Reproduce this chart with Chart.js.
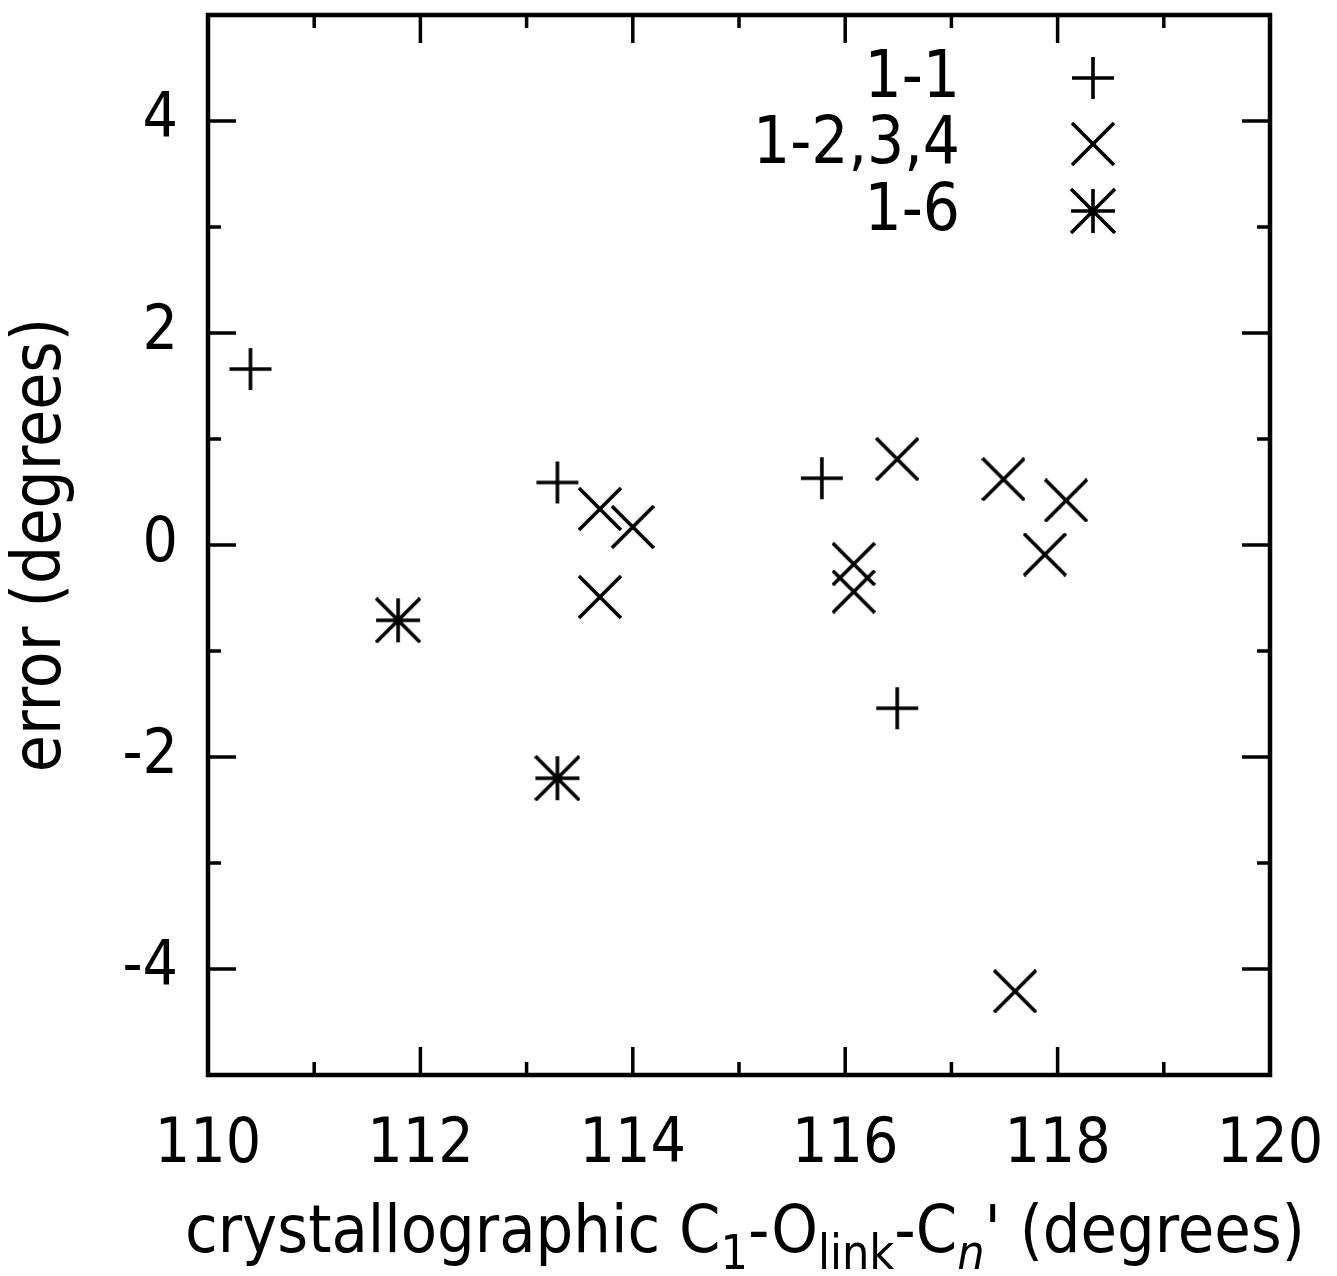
<!DOCTYPE html>
<html><head><meta charset="utf-8">
<script src="https://cdn.jsdelivr.net/npm/chart.js@4.4.1/dist/chart.umd.min.js"></script>
<style>html,body{margin:0;padding:0;background:#fff}#wrap{width:1337px;height:1276px}</style>
</head><body><div id="wrap"><canvas id="c" width="1337" height="1276"></canvas></div>
<script>
// ---- data ----
const seriesLabels = ['1-1', '1-2,3,4', '1-6'];
const s11X = [110.40, 113.29, 115.78, 116.49];
const s11Y = [1.66, 0.59, 0.63, -1.54];
const s1234X = [113.69, 114.00, 113.69, 116.49, 116.08, 116.08, 117.49, 118.08, 117.88, 117.60];
const s1234Y = [0.34, 0.17, -0.49, 0.81, -0.18, -0.44, 0.62, 0.42, -0.09, -4.21];
const s16X = [111.79, 113.29];
const s16Y = [-0.71, -2.20];
const xTickValues = [110, 112, 114, 116, 118, 120];
const xMinorTickValues = [111, 113, 115, 117, 119];
const yTickValues = [-4, -2, 0, 2, 4];
const yMinorTickValues = [-3, -1, 1, 3];
const yTitle = 'error (degrees)';
// x title as [text, isSubscript, isItalic]
const xTitleParts = [['crystallographic C', false, false], ['1', true, false], ['-O', false, false], ['link', true, false], ['-C', false, false], ['n', true, true], ["' (degrees)", false, false]];

const FONT = '"DejaVu Sans Condensed", "DejaVu Sans", sans-serif';

function makeMarker(kind, size, lw) {
  const c = document.createElement('canvas');
  c.width = size; c.height = size;
  const g = c.getContext('2d');
  g.strokeStyle = '#000'; g.lineWidth = lw; g.lineCap = 'butt';
  const h = size / 2, r = h - 1;
  g.beginPath();
  if (kind === 'plus' || kind === 'star') {
    g.moveTo(h - r, h); g.lineTo(h + r, h);
    g.moveTo(h, h - r); g.lineTo(h, h + r);
  }
  if (kind === 'x' || kind === 'star') {
    g.moveTo(h - r, h - r); g.lineTo(h + r, h + r);
    g.moveTo(h + r, h - r); g.lineTo(h - r, h + r);
  }
  g.stroke();
  return c;
}
const markers = [makeMarker('plus', 44, 3.6), makeMarker('x', 44, 3.6), makeMarker('star', 46, 3.6)];

const toPts = (xs, ys) => xs.map((x, i) => ({x: x, y: ys[i]}));

const framePlugin = {
  id: 'frame',
  afterDatasetsDraw(chart) {
    const ctx = chart.ctx, a = chart.chartArea;
    const xs = chart.scales.x, ys = chart.scales.y;
    ctx.save();
    ctx.strokeStyle = '#000';
    ctx.lineWidth = 3.5;
    const major = 28, minor = 13;
    ctx.beginPath();
    xTickValues.forEach(v => { const p = xs.getPixelForValue(v); ctx.moveTo(p, a.bottom); ctx.lineTo(p, a.bottom - major); ctx.moveTo(p, a.top); ctx.lineTo(p, a.top + major); });
    xMinorTickValues.forEach(v => { const p = xs.getPixelForValue(v); ctx.moveTo(p, a.bottom); ctx.lineTo(p, a.bottom - minor); ctx.moveTo(p, a.top); ctx.lineTo(p, a.top + minor); });
    yTickValues.forEach(v => { const p = ys.getPixelForValue(v); ctx.moveTo(a.left, p); ctx.lineTo(a.left + major, p); ctx.moveTo(a.right, p); ctx.lineTo(a.right - major, p); });
    yMinorTickValues.forEach(v => { const p = ys.getPixelForValue(v); ctx.moveTo(a.left, p); ctx.lineTo(a.left + minor, p); ctx.moveTo(a.right, p); ctx.lineTo(a.right - minor, p); });
    ctx.stroke();
    ctx.lineWidth = 4.5;
    ctx.strokeRect(a.left, a.top, a.right - a.left, a.bottom - a.top);
    ctx.restore();
  }
};

const legendPlugin = {
  id: 'customLegend',
  afterDraw(chart) {
    const ctx = chart.ctx;
    const rows = [78, 144, 211];
    ctx.save();
    ctx.fillStyle = '#000';
    ctx.font = '65px ' + FONT;
    ctx.textAlign = 'right';
    ctx.textBaseline = 'middle';
    chart.data.datasets.forEach((ds, i) => {
      ctx.fillText(ds.label, 960, rows[i] + 2);
      const m = ds.pointStyle;
      ctx.drawImage(m, 1093 - m.width / 2, rows[i] - m.height / 2);
    });
    ctx.restore();
  }
};

const xTitlePlugin = {
  id: 'xTitle',
  afterDraw(chart) {
    const ctx = chart.ctx;
    const size = 66, subSize = 48, subDrop = 17;
    const baseline = 1252;
    ctx.save();
    ctx.fillStyle = '#000';
    ctx.textBaseline = 'alphabetic';
    ctx.textAlign = 'left';
    const fontFor = p => (p[2] ? 'italic ' : '') + (p[1] ? subSize : size) + 'px ' + FONT;
    let total = 0;
    xTitleParts.forEach(p => { ctx.font = fontFor(p); total += ctx.measureText(p[0]).width; });
    let x = 745 - total / 2;
    xTitleParts.forEach(p => {
      ctx.font = fontFor(p);
      ctx.fillText(p[0], x, baseline + (p[1] ? subDrop : 0));
      x += ctx.measureText(p[0]).width;
    });
    ctx.restore();
  }
};

const zeroPad = s => { s.paddingTop = 0; s.paddingBottom = 0; s.paddingLeft = 0; s.paddingRight = 0; };

new Chart(document.getElementById('c'), {
  type: 'scatter',
  data: {
    datasets: [
      {label: seriesLabels[0], data: toPts(s11X, s11Y), pointStyle: markers[0], showLine: false},
      {label: seriesLabels[1], data: toPts(s1234X, s1234Y), pointStyle: markers[1], showLine: false},
      {label: seriesLabels[2], data: toPts(s16X, s16Y), pointStyle: markers[2], showLine: false}
    ]
  },
  options: {
    responsive: false,
    animation: false,
    devicePixelRatio: 1,
    layout: {autoPadding: false, padding: {top: 15, right: 67, left: 0, bottom: 0}},
    plugins: {legend: {display: false}, tooltip: {enabled: false}},
    scales: {
      x: {
        type: 'linear', min: 110, max: 120,
        grid: {display: false, drawTicks: false}, border: {display: false},
        ticks: {color: '#000', font: {family: FONT, size: 62}, padding: 34, maxRotation: 0},
        afterBuildTicks: s => { s.ticks = xTickValues.map(v => ({value: v})); },
        afterFit: s => { s.height = 201; zeroPad(s); }
      },
      y: {
        type: 'linear', min: -5, max: 5,
        grid: {display: false, drawTicks: false}, border: {display: false},
        ticks: {color: '#000', font: {family: FONT, size: 62}, padding: 30},
        afterBuildTicks: s => { s.ticks = yTickValues.map(v => ({value: v})); },
        afterFit: s => { s.width = 208; zeroPad(s); },
        title: {display: true, text: yTitle, color: '#000', font: {family: FONT, size: 67}, padding: {top: 2, bottom: 0}}
      }
    }
  },
  plugins: [framePlugin, legendPlugin, xTitlePlugin]
});
</script>
</body></html>
